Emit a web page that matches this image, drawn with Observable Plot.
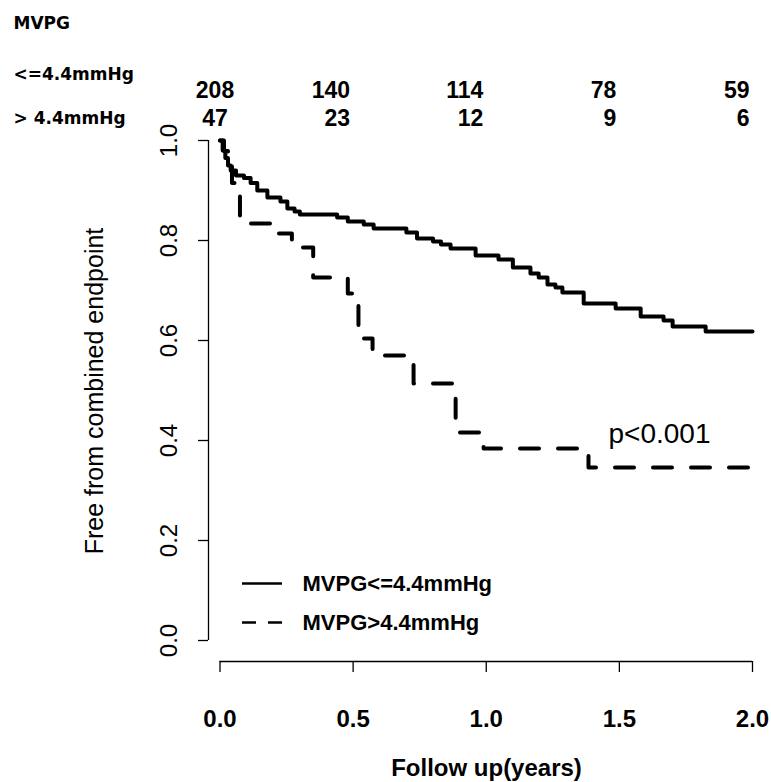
<!DOCTYPE html>
<html>
<head>
<meta charset="utf-8">
<script src="https://cdn.jsdelivr.net/npm/d3@7"></script>
<script src="https://cdn.jsdelivr.net/npm/@observablehq/plot@0.6"></script>
<style>
  html, body { margin: 0; padding: 0; background: #fff; }
  #chart svg { display: block; }
  g[aria-label="x-title"] text { letter-spacing: -0.6px; }
</style>
</head>
<body>
<div id="chart"></div>
<script>
// ---------- data ----------
const solidTimes = [0, 0.01, 0.02, 0.03, 0.04, 0.06, 0.09, 0.115, 0.14, 0.178, 0.227, 0.253, 0.28, 0.30, 0.44, 0.48, 0.54, 0.577, 0.70, 0.74, 0.80, 0.83, 0.866, 0.96, 1.046, 1.10, 1.166, 1.197, 1.23, 1.26, 1.286, 1.366, 1.486, 1.58, 1.666, 1.70, 1.824, 2.0];
const solidSurv  = [1.0, 0.98, 0.965, 0.95, 0.94, 0.93, 0.925, 0.915, 0.90, 0.886, 0.878, 0.864, 0.858, 0.852, 0.846, 0.838, 0.832, 0.824, 0.816, 0.804, 0.798, 0.792, 0.784, 0.77, 0.762, 0.746, 0.734, 0.726, 0.712, 0.706, 0.696, 0.674, 0.664, 0.648, 0.64, 0.628, 0.618, 0.618];
const dashedTimes = [0, 0.015, 0.03, 0.045, 0.075, 0.21, 0.27, 0.35, 0.48, 0.52, 0.573, 0.727, 0.885, 0.99, 1.384, 2.0];
const dashedSurv  = [1.0, 0.979, 0.957, 0.915, 0.834, 0.814, 0.786, 0.726, 0.694, 0.604, 0.57, 0.514, 0.416, 0.384, 0.346, 0.346];

const riskTimes = [0, 0.5, 1.0, 1.5, 2.0];
const riskLow  = [208, 140, 114, 78, 59];
const riskHigh = [47, 23, 12, 9, 6];

const groupLabels = ["MVPG<=4.4mmHg", "MVPG>4.4mmHg"];
const riskHeader = "MVPG";
const riskRowLabels = ["<=4.4mmHg", "> 4.4mmHg"];
const xTicks = [0, 0.5, 1.0, 1.5, 2.0];
const yTicks = [0, 0.2, 0.4, 0.6, 0.8, 1.0];
const xTitle = "Follow up(years)";
const yTitle = "Free from combined endpoint";
const pLabel = "p<0.001";

// ---------- layout ----------
const W = 771, H = 782;
const mL = 208, mR = 19, mT = 140, mB = 121;
const xMin = -0.0432, yMin = -0.042;   // axis offset (R style detached axes)
const legend = { x1: 0.0845, x2: 0.2347, xText: 0.31, y: [0.114, 0.036] };
const pPos = { x: 1.459, y: 0.396 };

const solid = solidTimes.map((t, i) => ({ t, s: solidSurv[i] }));
const dashed = dashedTimes.map((t, i) => ({ t, s: dashedSurv[i] }));
const riskRows = riskTimes.map((t, i) => ({ t, low: riskLow[i], high: riskHigh[i] }));
const legendRows = groupLabels.map((label, i) => ({ label, y: legend.y[i], x1: legend.x1, x2: legend.x2, xt: legend.xText }));
const rowLabelRows = [riskHeader, ...riskRowLabels].map((label, i) => ({ label, dy: [-112, -61, -17][i] }));

const font = "'Liberation Sans', Arial, Helvetica, sans-serif";
const labelFont = "'DejaVu Sans', sans-serif";

const marks = [
  // axis lines
  Plot.ruleX([xMin], { y1: 0, y2: 1, strokeWidth: 1.3 }),
  Plot.ruleY([yMin], { x1: 0, x2: 2, strokeWidth: 1.3 }),
  Plot.axisY({ ticks: yTicks, tickSize: 10, tickRotate: -90, tickPadding: 22, tickFormat: d3.format(".1f"),
    fontSize: 24, strokeWidth: 1.3, label: null }),
  Plot.axisX({ ticks: xTicks, tickSize: 11, tickPadding: 37, tickFormat: d3.format(".1f"),
    fontSize: 24, fontWeight: "bold", strokeWidth: 1.3, label: null }),
  // survival curves
  Plot.line(solid, { x: "t", y: "s", curve: "step-after", stroke: "black", strokeWidth: 4 }),
  Plot.line(dashed, { x: "t", y: "s", curve: "step-after", stroke: "black", strokeWidth: 4, strokeDasharray: "19,19" }),
  // numbers at risk
  Plot.text(riskRows.slice(0, 1), { x: "t", text: "low", frameAnchor: "top", dy: -43, dx: -5, lineAnchor: "bottom", textAnchor: "middle", fontSize: 23, fontWeight: "bold" }),
  Plot.text(riskRows.slice(1), { x: "t", text: "low", frameAnchor: "top", dy: -43, dx: -3, lineAnchor: "bottom", textAnchor: "end", fontSize: 23, fontWeight: "bold" }),
  Plot.text(riskRows.slice(0, 1), { x: "t", text: "high", frameAnchor: "top", dy: -15, dx: -5, lineAnchor: "bottom", textAnchor: "middle", fontSize: 23, fontWeight: "bold" }),
  Plot.text(riskRows.slice(1), { x: "t", text: "high", frameAnchor: "top", dy: -15, dx: -3, lineAnchor: "bottom", textAnchor: "end", fontSize: 23, fontWeight: "bold" })
];
// risk table row labels (top-left)
rowLabelRows.forEach(r => marks.push(
  Plot.text([r.label], { text: d => d, frameAnchor: "top-left", textAnchor: "start", lineAnchor: "bottom",
    dx: -195, dy: r.dy, fontFamily: labelFont, fontWeight: "bold", fontSize: 17 })
));
marks.push(
  // legend
  Plot.ruleY(legendRows.slice(0, 1), { y: "y", x1: "x1", x2: "x2", strokeWidth: 2.7 }),
  Plot.ruleY(legendRows.slice(1), { y: "y", x1: "x1", x2: "x2", strokeWidth: 2.7, strokeDasharray: "14,12", strokeLinecap: "butt" }),
  Plot.text(legendRows, { x: "xt", y: "y", text: "label", textAnchor: "start", fontSize: 22, fontWeight: "bold" }),
  // p-value
  Plot.text([pLabel], { x: () => pPos.x, y: () => pPos.y, text: d => d, textAnchor: "start", lineAnchor: "bottom", fontSize: 28 }),
  // axis titles
  Plot.text([yTitle], { text: d => d, frameAnchor: "left", textAnchor: "middle", rotate: -90, dx: -114, dy: -10, fontSize: 25 }),
  Plot.text([xTitle], { text: d => d, frameAnchor: "bottom", textAnchor: "middle", dx: 6, dy: 114, lineAnchor: "bottom", fontSize: 24, fontWeight: "bold", ariaLabel: "x-title" })
);

const chart = Plot.plot({
  width: W, height: H,
  marginLeft: mL, marginRight: mR, marginTop: mT, marginBottom: mB,
  x: { domain: [xMin, 2] },
  y: { domain: [yMin, 1] },
  style: { fontFamily: font, background: "white", color: "black", overflow: "visible" },
  marks
});
document.getElementById("chart").appendChild(chart);
</script>
</body>
</html>
